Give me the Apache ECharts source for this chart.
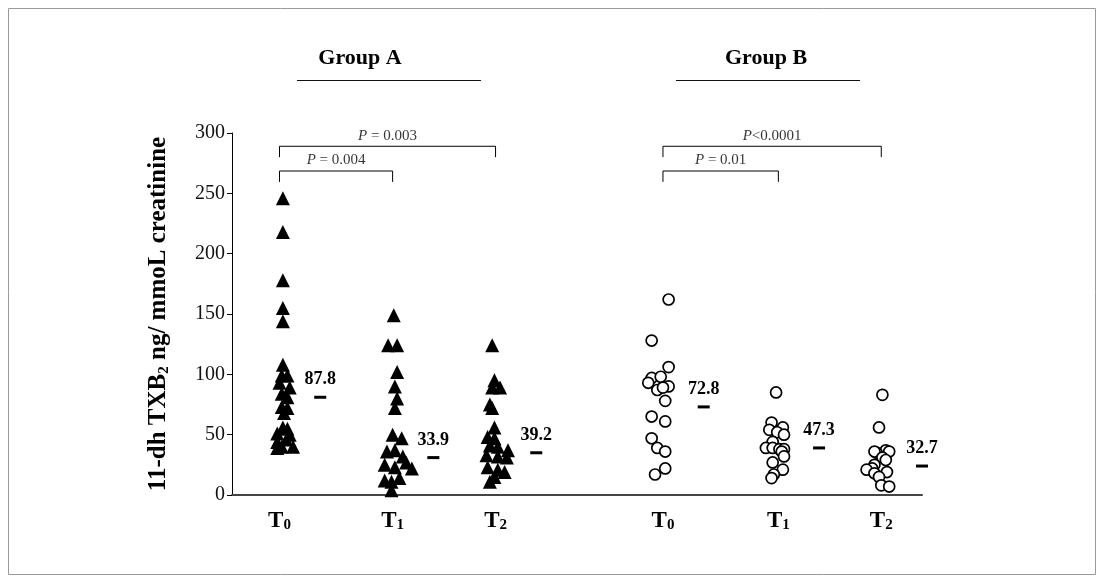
<!DOCTYPE html>
<html><head><meta charset="utf-8">
<script src="https://cdn.jsdelivr.net/npm/echarts@6/dist/echarts.min.js"></script>
<style>html,body{margin:0;padding:0;background:#fff}#c{width:1104px;height:583px}</style>
</head><body><div id="c"></div>
<script>
// ---- data ----
const groupTitles = ['Group A', 'Group B'];
const timeSubs = ['0', '1', '2', '0', '1', '2'];
const groupPos = [0.42, 1.42, 2.33, 3.81, 4.83, 5.74];
const yTicks = [0, 50, 100, 150, 200, 250, 300];
// [horizontal jitter (axis units), value]
const groupA_T0 = [[0.03,246],[0.03,218],[0.03,178],[0.03,155],[0.03,144],[0.03,108],[0.02,99],[0.07,99],[0,93],[0.09,89],[0.02,84],[0.07,81],[0.02,73],[0.07,72],[0.04,68],[0.03,56],[0.07,55],[-0.02,51],[0.09,50],[0.06,46],[-0.02,44],[0.02,40],[0.12,40],[-0.02,39]];
const groupA_T1 = [[0.01,149],[-0.04,124],[0.04,124],[0.04,102],[0.02,90],[0.04,80],[0.02,72],[0,50],[0.08,47],[-0.05,36],[0.02,37],[0.09,32],[-0.07,25],[0.02,23],[0.12,27],[0.17,22],[-0.07,12],[-0.01,11],[0.06,14],[-0.01,4]];
const groupA_T2 = [[-0.03,124],[-0.01,95],[0.04,89],[-0.03,89],[-0.05,75],[-0.03,72],[-0.01,56],[-0.07,48],[-0.01,47],[-0.05,41],[0.02,40],[0.11,37],[-0.08,33],[0.02,32],[0.10,31],[-0.07,23],[0.02,21],[0.08,19],[-0.01,15],[-0.05,11]];
const groupB_T0 = [[0.05,162],[-0.10,128],[0.05,106],[-0.10,97],[-0.02,98],[-0.13,93],[0.05,90],[-0.05,87],[0,89],[0.02,78],[-0.10,65],[0.02,61],[-0.10,47],[-0.05,39],[0.02,36],[0.02,22],[-0.07,17]];
const groupB_T1 = [[-0.02,85],[-0.06,60],[0.04,56],[-0.08,54],[-0.01,52],[0.05,50],[-0.05,44],[-0.11,39],[-0.05,39],[0.01,38],[0.05,38],[0.03,36],[0.05,32],[-0.05,27],[0.04,21],[-0.04,17],[-0.06,14]];
const groupB_T2 = [[0.01,83],[-0.02,56],[0.04,37],[0.07,36],[-0.04,35],[-0.06,36],[0.01,31],[0.04,29],[-0.06,25],[-0.08,22],[-0.13,21],[-0.06,18],[0.05,19],[-0.02,15],[0,8],[0.07,7]];
const medianValues = [81, 31, 35, 73, 39, 24];
const medianLabels = ['87.8', '33.9', '39.2', '72.8', '47.3', '32.7'];
// brackets: [from group, to group, level value, p-label]
const bracketFrom = [0, 0, 3, 3];
const bracketTo = [2, 1, 5, 4];
const bracketLevel = [289, 268.5, 289, 268.5];
const pValues = [' = 0.003', ' = 0.004', '<0.0001', ' = 0.01'];

// ---- chart ----
const SERIF = '"Liberation Serif", "Times New Roman", serif';
const chart = echarts.init(document.getElementById('c'));
const allGroups = [groupA_T0, groupA_T1, groupA_T2, groupB_T0, groupB_T1, groupB_T2];
const series = [];
allGroups.forEach((g, i) => {
  const isA = i < 3;
  series.push({
    type: 'scatter',
    data: g.map(([dx, v]) => [groupPos[i] + dx, v]),
    symbol: isA ? 'triangle' : 'circle',
    symbolSize: isA ? 14 : 11,
    itemStyle: isA ? { color: '#000', opacity: 1 } : { color: '#fff', borderColor: '#000', borderWidth: 1.7, opacity: 1 },
    silent: true, z: 3
  });
});
series.push({
  type: 'scatter',
  data: groupPos.map((p, i) => [p + 0.36, medianValues[i]]),
  symbol: 'rect', symbolSize: [12, 3],
  itemStyle: { color: '#000', opacity: 1 },
  label: {
    show: true, position: 'top', distance: 7,
    formatter: (p) => medianLabels[p.dataIndex],
    fontFamily: SERIF, fontWeight: 'bold', fontSize: 18, color: '#000'
  },
  silent: true, z: 4
});
bracketFrom.forEach((f, i) => {
  const x1 = groupPos[f], x2 = groupPos[bracketTo[i]], lv = bracketLevel[i];
  series.push({
    type: 'line',
    data: [[x1, lv - 9], [x1, lv], [x2, lv], [x2, lv - 9]],
    symbol: 'none',
    lineStyle: { color: '#000', width: 1 },
    silent: true, animation: false
  });
  series.push({
    type: 'scatter',
    data: [[(x1 + x2) / 2, lv]],
    symbolSize: 0,
    label: {
      show: true, position: 'top', distance: 3,
      formatter: '{i|P}{n|' + pValues[i] + '}',
      rich: {
        i: { fontFamily: SERIF, fontStyle: 'italic', fontSize: 15, color: '#000' },
        n: { fontFamily: SERIF, fontSize: 15, color: '#000' }
      }
    },
    silent: true
  });
});

chart.setOption({
  animation: false,
  backgroundColor: '#fff',
  grid: { left: 232, right: 182, top: 133, bottom: 88 },
  xAxis: {
    type: 'value', min: 0, max: 6.1,
    axisLine: { show: true, onZero: false, lineStyle: { color: '#444', width: 2 } },
    axisTick: { show: false },
    splitLine: { show: false },
    axisLabel: {
      customValues: groupPos,
      margin: 14,
      formatter: (v) => {
        const i = groupPos.findIndex(p => Math.abs(p - v) < 1e-6);
        return i < 0 ? '' : '{t|T}{s|' + timeSubs[i] + '}';
      },
      rich: {
        t: { fontFamily: SERIF, fontWeight: 'bold', fontSize: 23, color: '#000', lineHeight: 24 },
        s: { fontFamily: SERIF, fontWeight: 'bold', fontSize: 15, color: '#000', lineHeight: 12, verticalAlign: 'bottom' }
      }
    }
  },
  yAxis: {
    type: 'value', min: yTicks[0], max: yTicks[yTicks.length - 1], interval: 50,
    axisLine: { show: true, lineStyle: { color: '#000', width: 1 } },
    axisTick: { show: true, inside: false, length: 5, lineStyle: { color: '#000' } },
    splitLine: { show: false },
    axisLabel: { fontFamily: SERIF, fontSize: 20, color: '#111', margin: 7 },
    name: '{b|11-dh TXB}{s|2}{b| ng/ mmoL creatinine}',
    nameLocation: 'middle', nameRotate: 90, nameGap: 60,
    nameTextStyle: {
      rich: {
        b: { fontFamily: SERIF, fontWeight: 'bold', fontSize: 25, color: '#000', lineHeight: 26 },
        s: { fontFamily: SERIF, fontWeight: 'bold', fontSize: 15, color: '#000', lineHeight: 12, verticalAlign: 'bottom' }
      }
    }
  },
  graphic: [
    { type: 'rect', shape: { x: 8.5, y: 8.5, width: 1087, height: 566 }, style: { fill: 'none', stroke: '#9a9a9a', lineWidth: 1 }, silent: true },
    { type: 'text', x: 360, y: 58, style: { text: groupTitles[0], align: 'center', verticalAlign: 'middle', font: 'bold 22px ' + SERIF, fill: '#000' } },
    { type: 'text', x: 766, y: 58, style: { text: groupTitles[1], align: 'center', verticalAlign: 'middle', font: 'bold 22px ' + SERIF, fill: '#000' } },
    { type: 'line', shape: { x1: 297, y1: 80.5, x2: 481, y2: 80.5 }, style: { stroke: '#111', lineWidth: 1 } },
    { type: 'line', shape: { x1: 676, y1: 80.5, x2: 860, y2: 80.5 }, style: { stroke: '#111', lineWidth: 1 } }
  ],
  series: series
});
</script></body></html>
